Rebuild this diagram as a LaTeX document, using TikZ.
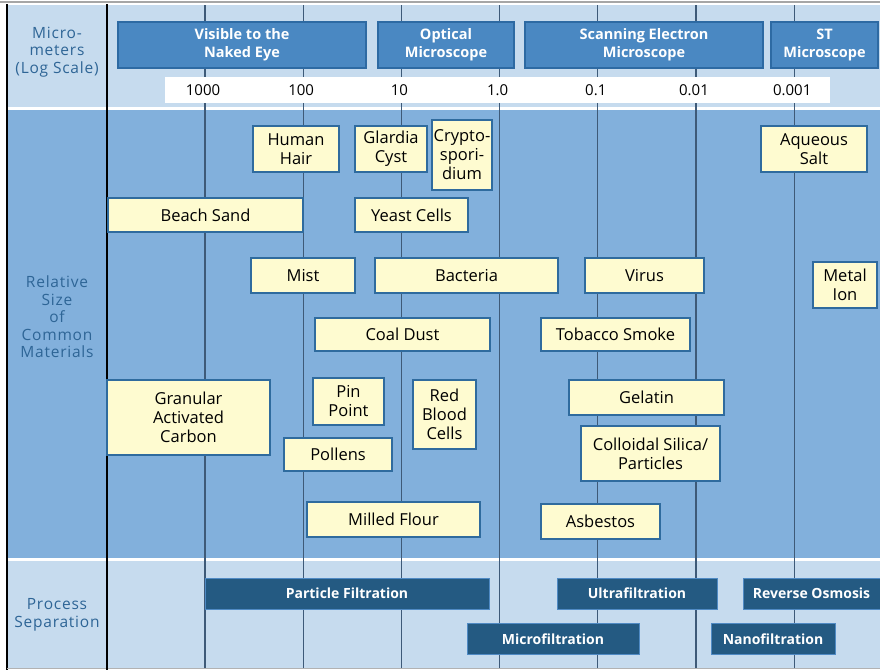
\documentclass[tikz,border=0pt]{standalone}
\usepackage{fontspec}
\setmainfont{Open Sans}
\newfontfamily\widefont[LetterSpace=5]{Open Sans}
\usepackage{xcolor}
\usepackage{tikz}
\usetikzlibrary{positioning}

\definecolor{bandlight}{HTML}{C6DBEE}
\definecolor{bandmid}{HTML}{82B0DC}
\definecolor{headfill}{HTML}{4A88C2}
\definecolor{headdraw}{HTML}{2D6AA3}
\definecolor{cream}{HTML}{FEFBD0}
\definecolor{creamdraw}{HTML}{2F6B9E}
\definecolor{barfill}{HTML}{245A82}
\definecolor{bardraw}{HTML}{4F8AC4}
\definecolor{gridcol}{HTML}{3E5A78}
\definecolor{labelcol}{HTML}{2E6596}

\begin{document}
\begin{tikzpicture}[x=1pt, y=-1pt,
    header/.style={rectangle, draw=headdraw, line width=1.2pt, fill=headfill, text=white, font=\bfseries\fontsize{14.5}{18}\selectfont, align=center, inner sep=0pt, minimum height=46},
    material/.style={rectangle, draw=creamdraw, line width=1.2pt, fill=cream, text=black, font=\fontsize{16.5}{19}\selectfont, align=center, inner sep=0pt},
    process/.style={rectangle, draw=bardraw, line width=1pt, fill=barfill, text=white, font=\bfseries\fontsize{14}{17}\selectfont, inner sep=0pt, minimum height=31},
    sidelabel/.style={text=labelcol, font=\widefont\fontsize{15.5}{17.5}\selectfont, align=center},
    scalelabel/.style={font=\fontsize{15}{17}\selectfont},
    gridline/.style={draw=gridcol, line width=1.3pt}]

    \useasboundingbox (0,0) rectangle (880,670);
    \fill[white] (0,0) rectangle (880,670);

    % Bands
    \fill[bandlight] (7,5) rectangle (880,107);
    \fill[bandmid] (7,110) rectangle (880,558);
    \fill[bandlight] (7,561) rectangle (880,668);
    \draw[gray!70, line width=2.5pt] (0,2) -- (880,2);
    \draw[black, line width=1.5pt] (7,4) -- (7,670);
    \draw[gray!60, line width=0.8pt] (7,668.5) -- (880,668.5);

    % Grid (log scale, one line per decade)
    \foreach \i in {0,...,6}
        \draw[gridline] ({205+98.2*\i},5) -- ({205+98.2*\i},668);
    \draw[black, line width=1.8pt] (107,4) -- (107,670);

    % Microscopes
    \node[header, minimum width=248] (naked) at (242,45) {Visible to the\\Naked Eye};
    \node[header, minimum width=136] (optical) at (446,45) {Optical\\Microscope};
    \node[header, minimum width=238] (sem) at (644,45) {Scanning Electron\\Microscope};
    \node[header, minimum width=107] (stm) at (824.5,45) {ST\\Microscope};

    % Scale
    \fill[white] (165,77) rectangle (830,103);
    \foreach \val [count=\i from 0] in {1000,100,10,1.0,0.1,0.01,0.001}
        \node[scalelabel] (scale\i) at ({205+98.2*\i-2},90.5) {\val};

    % Side labels
    \node[sidelabel] (micro) at (57,52) {Micro-\\meters\\(Log Scale)};
    \node[sidelabel] (relsize) at (57,317) {Relative\\Size\\of\\Common\\Materials};
    \node[sidelabel] (procsep) at (57,615) {Process\\Separation};

    % Common materials
    \node[material, minimum width=86, minimum height=46] (hair) at (296,149) {Human\\Hair};
    \node[material, minimum width=72, minimum height=46] (giardia) at (391,149) {Glardia\\Cyst};
    \node[material, minimum width=60, minimum height=70] (crypto) at (462,155) {Crypto-\\spori-\\dium};
    \node[material, minimum width=106, minimum height=46] (salt) at (814,149) {Aqueous\\Salt};
    \node[material, minimum width=195, minimum height=34] (sand) at (205.5,215) {Beach Sand};
    \node[material, minimum width=113, minimum height=34] (yeast) at (411.5,215) {Yeast Cells};
    \node[material, minimum width=104, minimum height=35] (mist) at (303,275.5) {Mist};
    \node[material, minimum width=183, minimum height=35] (bacteria) at (466.5,275.5) {Bacteria};
    \node[material, minimum width=119, minimum height=35] (virus) at (644.5,275.5) {Virus};
    \node[material, minimum width=64, minimum height=46] (ion) at (845,285) {Metal\\Ion};
    \node[material, minimum width=175, minimum height=33] (coal) at (402.5,334.5) {Coal Dust};
    \node[material, minimum width=149, minimum height=33] (smoke) at (615.5,334.5) {Tobacco Smoke};
    \node[material, minimum width=163, minimum height=75] (carbon) at (188.5,417.5) {Granular\\Activated\\Carbon};
    \node[material, minimum width=71, minimum height=47] (pin) at (348.5,401.5) {Pin\\Point};
    \node[material, minimum width=63, minimum height=69] (blood) at (444.5,414.5) {Red\\Blood\\Cells};
    \node[material, minimum width=108, minimum height=33] (pollen) at (338,454.5) {Pollens};
    \node[material, minimum width=155, minimum height=35] (gelatin) at (646.5,397.5) {Gelatin};
    \node[material, minimum width=139, minimum height=55] (silica) at (650.5,453.5) {Colloidal Silica/\\Particles};
    \node[material, minimum width=173, minimum height=35] (flour) at (393.5,519.5) {Milled Flour};
    \node[material, minimum width=119, minimum height=35] (asbestos) at (600.5,521.5) {Asbestos};

    % Process separation
    \node[process, minimum width=284] (particle) at (347,593.5) {Particle Filtration};
    \node[process, minimum width=160] (ultra) at (637,593.5) {Ultrafiltration};
    \node[process, minimum width=137] (osmosis) at (811.5,593.5) {Reverse Osmosis};
    \node[process, minimum width=172] (microf) at (553,639) {Microfiltration};
    \node[process, minimum width=124] (nano) at (773,639) {Nanofiltration};

\end{tikzpicture}
\end{document}
